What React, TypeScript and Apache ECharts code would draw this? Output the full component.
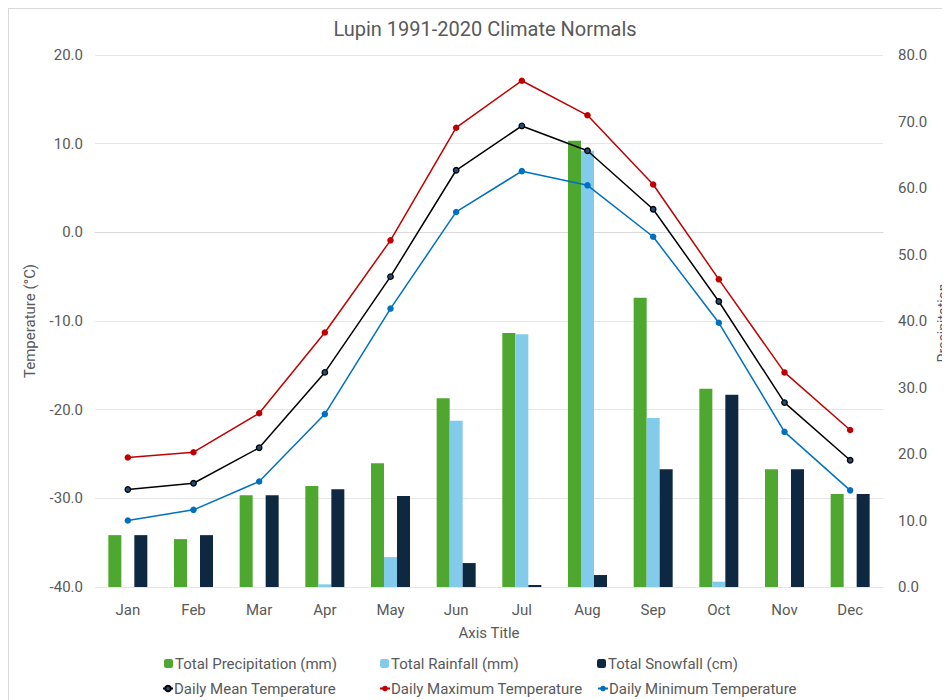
import React, { useEffect, useRef } from "react";
import * as echarts from "echarts";

const months = ["Jan", "Feb", "Mar", "Apr", "May", "Jun", "Jul", "Aug", "Sep", "Oct", "Nov", "Dec"];
const precip = [7.8, 7.2, 13.8, 15.2, 18.6, 28.4, 38.2, 67.1, 43.5, 29.8, 17.7, 14.0];
const rain = [0, 0, 0, 0.4, 4.5, 25.0, 38.0, 65.6, 25.4, 0.8, 0, 0];
const snow = [7.8, 7.8, 13.8, 14.7, 13.7, 3.6, 0.3, 1.8, 17.7, 28.9, 17.7, 14.0];
const tMean = [-29.0, -28.3, -24.3, -15.8, -5.0, 7.0, 12.0, 9.2, 2.6, -7.8, -19.2, -25.7];
const tMax = [-25.4, -24.8, -20.4, -11.3, -0.9, 11.8, 17.1, 13.2, 5.4, -5.3, -15.8, -22.3];
const tMin = [-32.5, -31.3, -28.1, -20.5, -8.6, 2.3, 6.9, 5.3, -0.5, -10.2, -22.5, -29.1];

const FONT = "Roboto, 'Liberation Sans', sans-serif";
const TXT = "#595959";

export default function App() {
  const ref = useRef<HTMLDivElement>(null);
  useEffect(() => {
    document.body.style.overflow = "hidden";
    const chart = echarts.init(ref.current!, null, { renderer: "svg" });
    const mkLegend = (name: string, left: number, top: number, isLine: boolean) => ({
      data: [name],
      left,
      top,
      itemWidth: isLine ? 10 : 9,
      itemHeight: isLine ? 7 : 9,
      textStyle: { color: TXT, fontSize: 15, fontFamily: FONT, padding: [0, 0, 0, isLine ? -4 : -3] },
      selectedMode: false,
    });
    chart.setOption({
      animation: false,
      textStyle: { fontFamily: FONT },
      title: {
        text: "Lupin 1991-2020 Climate Normals",
        left: 479 - 8,
        textAlign: "center",
        top: 5,
        textStyle: { color: TXT, fontSize: 20, fontWeight: "normal", fontFamily: FONT },
      },
      legend: [
        mkLegend("Total Precipitation (mm)", 150, 642, false),
        mkLegend("Total Rainfall (mm)", 366, 642, false),
        mkLegend("Total Snowfall (cm)", 583, 642, false),
        mkLegend("Daily Mean Temperature", 148, 667, true),
        mkLegend("Daily Maximum Temperature", 365, 667, true),
        mkLegend("Daily Minimum Temperature", 583, 667, true),
      ],
      grid: { left: 86, top: 46, width: 788, height: 532 },
      xAxis: {
        type: "category",
        data: months,
        axisTick: { show: false },
        axisLine: { lineStyle: { color: "#d9d9d9" } },
        axisLabel: { color: TXT, fontSize: 15, margin: 15 },
        name: "Axis Title",
        nameLocation: "middle",
        nameGap: 38,
        nameTextStyle: { color: TXT, fontSize: 15 },
      },
      yAxis: [
        {
          type: "value",
          min: -40,
          max: 20,
          interval: 10,
          axisLabel: { color: TXT, fontSize: 15, margin: 12, formatter: (v: number) => v.toFixed(1) },
          splitLine: { lineStyle: { color: "#e6e6e6" } },
          axisLine: { show: false },
          name: "Temperature (°C)",
          nameLocation: "middle",
          nameGap: 58,
          nameTextStyle: { color: TXT, fontSize: 15 },
        },
        {
          type: "value",
          min: 0,
          max: 80,
          interval: 10,
          axisLabel: { color: TXT, fontSize: 15, margin: 15, formatter: (v: number) => v.toFixed(1) },
          splitLine: { show: false },
          axisLine: { show: false },
        },
      ],
      graphic: [
        {
          type: "text",
          x: 934,
          y: 314,
          rotation: Math.PI / 2,
          style: { text: "Precipitation", fill: TXT, fontSize: 14, fontFamily: FONT, align: "center", verticalAlign: "middle" },
        },
      ],
      series: [
        { name: "Total Precipitation (mm)", type: "bar", yAxisIndex: 1, data: precip, barWidth: 13, barGap: "0%", itemStyle: { color: "#4ea72e" } },
        { name: "Total Rainfall (mm)", type: "bar", yAxisIndex: 1, data: rain, barWidth: 13, barGap: "0%", itemStyle: { color: "#83cbeb" } },
        { name: "Total Snowfall (cm)", type: "bar", yAxisIndex: 1, data: snow, barWidth: 13, barGap: "0%", itemStyle: { color: "#0e2841" } },
        {
          name: "Daily Mean Temperature", type: "line", data: tMean, symbol: "circle", symbolSize: 5.5,
          lineStyle: { color: "#000000", width: 1.5 }, itemStyle: { color: "#1f4e79", borderColor: "#000000", borderWidth: 1.3 },
        },
        {
          name: "Daily Maximum Temperature", type: "line", data: tMax, symbol: "circle", symbolSize: 6.5,
          lineStyle: { color: "#c00000", width: 1.5 }, itemStyle: { color: "#c00000" },
        },
        {
          name: "Daily Minimum Temperature", type: "line", data: tMin, symbol: "circle", symbolSize: 6.5,
          lineStyle: { color: "#0070c0", width: 1.5 }, itemStyle: { color: "#0070c0" },
        },
      ],
    });
    return () => chart.dispose();
  }, []);
  return (
    <div
      ref={ref}
      style={{ width: 960, height: 710, border: "1px solid #d9d9d9", boxSizing: "border-box", background: "#fff" }}
    />
  );
}
